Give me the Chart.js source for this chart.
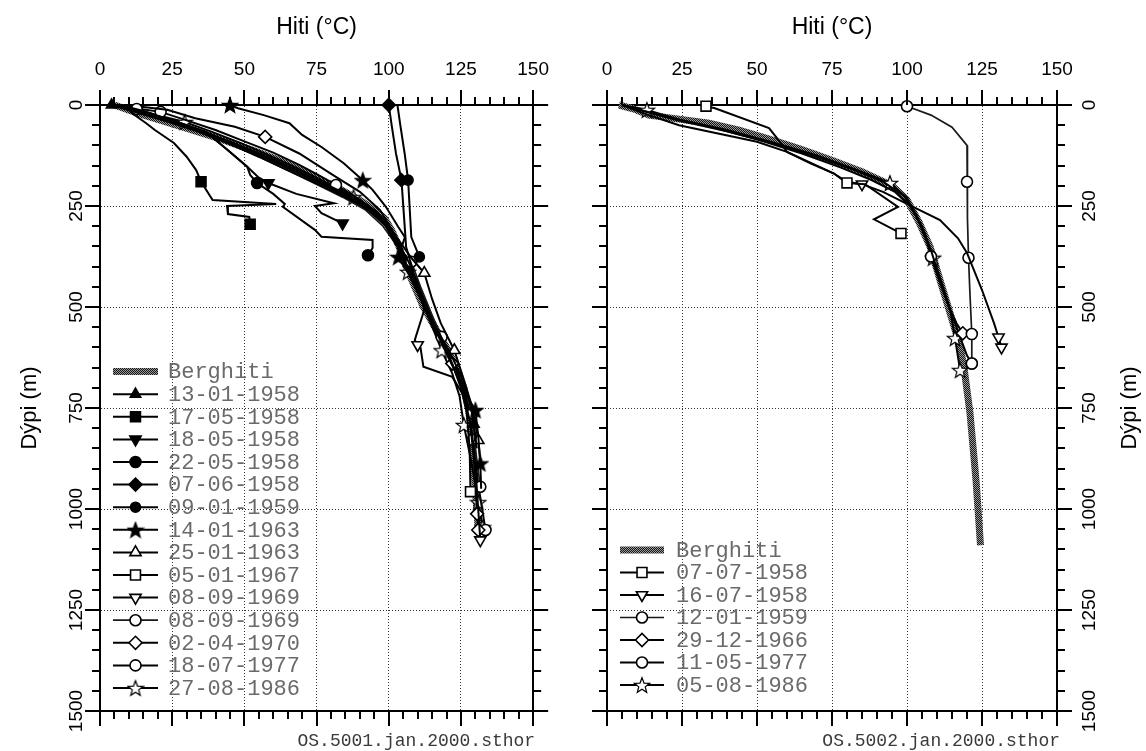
<!DOCTYPE html>
<html>
<head>
<meta charset="utf-8">
<script src="https://cdn.jsdelivr.net/npm/chart.js@4/dist/chart.umd.min.js"></script>
<style>
  html, body { margin: 0; padding: 0; background: #fff; }
  #wrap { position: relative; width: 1146px; height: 751px; overflow: hidden; }
  .pane { position: absolute; top: 0; width: 573px; height: 751px; }
</style>
</head>
<body>
<div id="wrap">
  <div class="pane" style="left:0"><canvas id="well5001" width="573" height="751"></canvas></div>
  <div class="pane" style="left:573px"><canvas id="well5002" width="573" height="751"></canvas></div>
</div>
<script>
// Temperature (°C) vs depth (m) pairs: [hiti, dýpi]

// ---- OS-5001 ----
const berghitiL = [[5,0],[13,20],[22,40],[31,60],[40,80],[48,100],[56,120],[63,140],[69,160],[75,180],[81,200],[86,220],[91,240],[95,260],[98.5,280],[101,310],[103.5,350],[106,400],[109,450],[112,500],[116,550],[120,600],[123.5,650],[126,700],[127.5,750],[128.5,800],[129.5,900],[130.5,1000],[131,1050]];
const s130158 = [[4,0],[11,15],[22,38],[33,62],[45,90],[57,125],[68,160],[78,195],[88,230],[96,265],[101,310],[104,360],[107,410],[110,460],[113,510],[117,560],[121,610],[125,670],[128,730],[129.5,790],[130.5,850]];
const s170558 = [[8,0],[11,20],[16,45],[19,62],[25.6,94],[30,128],[33.3,161],[35,190],[39,235],[61,245],[44,250],[44.3,270],[51.7,277],[52,295]];
const s180558 = [[6,0],[12,12],[24,35],[36.7,67],[44,110],[51,153],[55,180],[58.3,193],[68,220],[81,243],[74.4,250],[76.7,268],[84,293]];
const s220558 = [[6,0],[12,12],[24,35],[36.7,67],[44,110],[51,153],[52,173],[54.4,193],[60,220],[64,245],[63.3,252],[74.4,309],[76.7,326],[94.4,334],[94.4,354],[92.8,372]];
const s070658 = [[100,0],[101,50],[102.5,120],[104.4,186],[105.6,309],[106,351],[107.3,383],[108.5,410]];
const s090159 = [[103,0],[104,50],[105.5,120],[106.7,186],[107.8,327],[110.6,376]];
const s140163 = [[45,0],[47.8,8],[56.7,25],[65.6,45],[70,74],[76.7,104],[84.4,144],[91,186],[94.4,210],[99,252],[103.3,302],[105.6,327],[103.3,376],[107,420],[111,480],[115,540],[119,600],[123,660],[127,720],[130,755],[131,820],[131.7,887],[132,950]];
const s250163 = [[6,0],[14,18],[24,40],[35,65],[46,95],[56,125],[65,155],[74,185],[83,215],[92,250],[99,290],[104,340],[108,380],[112.3,416],[115,480],[118,540],[122.7,607],[126,680],[129,750],[131,830],[132,900]];
const s050167 = [[7,0],[15,15],[25,38],[36,65],[47,98],[57,130],[66,160],[75,190],[85,225],[93,260],[99,300],[103,350],[106,400],[110,460],[114,520],[118,580],[122,640],[125,700],[127,760],[128,850],[128.3,957]];
const s080969a = [[6,0],[13,18],[23,40],[34,66],[45,97],[55,128],[64,158],[73,188],[82,218],[91,250],[98,290],[103,340],[107,390],[110,440],[112.3,507],[109,582],[110,594],[111,601],[112,648],[122,673],[126,720],[128,780],[129.5,850],[130.5,950],[131.7,1077]];
const s080969b = [[5,0],[12.7,10],[20,30],[30,55],[41,85],[51,115],[60,145],[68,172],[76,200],[84,228],[92,260],[98,300],[103,350],[107.8,388],[111,450],[115,520],[119,590],[123,660],[126.5,710],[129,763],[130,850],[131.7,945]];
const s020470 = [[6,0],[15,5],[23.3,12],[33,33],[46.7,54],[57.2,79],[69,120],[81,175],[90,215],[97,260],[102,320],[105,370],[108,420],[112,480],[116,540],[119.5,600],[122,640],[125.5,700],[128,770],[129.5,880],[130.6,1012],[131,1052]];
const s180777 = [[5,0],[12,8],[21,17],[30,38],[40,62],[50,90],[60,118],[69,148],[76,175],[81.7,198],[88,225],[94,255],[99,290],[103,335],[106,380],[110,440],[114,510],[118.3,574],[122,630],[126,700],[128,760],[129,829],[131,940],[133.5,1052]];
const s270886 = [[5,0],[12,10],[20,25],[29.3,42],[39,67],[49,95],[58,123],[67,152],[75,180],[82,205],[87.8,228],[94,260],[99,300],[103,350],[106.7,413],[110,460],[114,530],[118.3,607],[122,665],[124.5,720],[126,792],[128.5,880],[131,983],[132.5,1045]];

// ---- OS-5002 ----
const berghitiR = [[4,0],[9,10],[14,25],[24,35],[34,45],[44,62],[53,82],[64,108],[75,137],[85,165],[95,200],[100,235],[104,290],[107.7,351],[111,433],[114.4,516],[117.7,598],[119,650],[121,763],[123,928],[124.5,1090]];
const r070758 = [[33,3],[36,8],[54,57],[57,85],[60,116],[68,145],[75.5,169],[80,193],[86,196],[97,252],[89,283],[98,318]];
const r160758 = [[5,0],[12,20],[24,50],[50,91],[60,116],[75.5,169],[80,190],[85,196],[92,215],[100,245],[111,285],[117,330],[120,366],[125,458],[129,540],[130.5,575],[131.5,600]];
const r120159 = [[100,3],[108,25],[115,55],[120,100],[120,190],[120.3,280],[120.5,378],[121,470],[121.6,567],[121.6,640]];
const r291266 = [[5,0],[10,10],[20,30],[35,55],[50,85],[65,120],[78,155],[88,185],[96,215],[101,250],[105,300],[108,360],[111,430],[114,500],[116.5,540],[118.6,565]];
const r110577 = [[5,0],[12,15],[25,40],[40,65],[55,95],[70,128],[82,160],[92,190],[99,225],[103,270],[106,320],[108,375],[111,440],[114,500],[117,560],[120,620],[121.6,640]];
const r050886 = [[5,0],[13.3,12],[25,38],[40,62],[55,92],[70,125],[83,160],[94.3,193],[100,230],[104,290],[108.7,378],[112,450],[114.5,510],[116,577],[117.7,656]];

// ---- axes ----
const tempRange = [0, 150];
const depthRange = [0, 1500];
const tempStep = 25, tempMinor = 5;
const depthStep = 250, depthMinor = 50;

// ---- drawing helpers ----
function hatchPattern() {
  const c = document.createElement('canvas');
  c.width = 2; c.height = 2;
  const g = c.getContext('2d');
  g.fillStyle = '#9a9a9a'; g.fillRect(0, 0, 2, 2);
  g.fillStyle = '#161616'; g.fillRect(0, 0, 1, 1); g.fillRect(1, 1, 1, 1);
  return document.createElement('canvas').getContext('2d').createPattern(c, 'repeat');
}
function starMark(filled) {
  const c = document.createElement('canvas');
  c.width = 18; c.height = 18;
  const g = c.getContext('2d');
  g.beginPath();
  for (let i = 0; i < 10; i++) {
    const r = i % 2 ? 3.4 : 8;
    const a = -Math.PI / 2 + i * Math.PI / 5;
    g.lineTo(9 + r * Math.cos(a), 9.8 + r * Math.sin(a));
  }
  g.closePath();
  g.fillStyle = filled ? '#000' : '#fff';
  g.fill();
  g.lineWidth = 1.2; g.strokeStyle = '#000'; g.stroke();
  return c;
}
const HATCH = hatchPattern();
const STAR_FILLED = starMark(true);
const STAR_OPEN = starMark(false);

const seriesL = [
  { label: 'Berghiti',   pts: berghitiL, rock: true },
  { label: '13-01-1958', pts: s130158, shape: 'triangle', filled: true,  r: 6,   marks: [0, 19] },
  { label: '17-05-1958', pts: s170558, shape: 'rect',     filled: true,  r: 7,   marks: [7, 13] },
  { label: '18-05-1958', pts: s180558, shape: 'triangle', filled: true,  r: 6.5, rot: 180, marks: [7, 12] },
  { label: '22-05-1958', pts: s220558, shape: 'circle',   filled: true,  r: 5.5, marks: [7, 15] },
  { label: '07-06-1958', pts: s070658, shape: 'rectRot',  filled: true,  r: 6.5, marks: [0, 3] },
  { label: '09-01-1959', pts: s090159, shape: 'circle',   filled: true,  r: 5,   marks: [3, 5] },
  { label: '14-01-1963', pts: s140163, shape: STAR_FILLED, marks: [0, 7, 12, 19, 21] },
  { label: '25-01-1963', pts: s250163, shape: 'triangle', filled: false, r: 6.5, marks: [13, 16, 19] },
  { label: '05-01-1967', pts: s050167, shape: 'rect',     filled: false, r: 7,   marks: [20] },
  { label: '08-09-1969', pts: s080969a, shape: 'triangle', filled: false, r: 6.5, rot: 180, marks: [16, 24] },
  { label: '08-09-1969', pts: s080969b, shape: 'circle',  filled: false, r: 5.5, light: true, marks: [1, 13, 19, 21] },
  { label: '02-04-1970', pts: s020470, shape: 'rectRot',  filled: false, r: 6.5, marks: [5, 16, 20, 21] },
  { label: '18-07-1977', pts: s180777, shape: 'circle',   filled: false, r: 5.5, marks: [2, 9, 17, 21, 23] },
  { label: '27-08-1986', pts: s270886, shape: STAR_OPEN,  marks: [3, 10, 14, 17, 20, 22, 23] }
];
const seriesR = [
  { label: 'Berghiti',   pts: berghitiR, rock: true },
  { label: '07-07-1958', pts: r070758, shape: 'rect',     filled: false, r: 7,   marks: [0, 7, 11] },
  { label: '16-07-1958', pts: r160758, shape: 'triangle', filled: false, r: 6.5, rot: 180, marks: [7, 15, 16] },
  { label: '12-01-1959', pts: r120159, shape: 'circle',   filled: false, r: 5.5, light: true, marks: [0, 4, 6, 8, 9] },
  { label: '29-12-1966', pts: r291266, shape: 'rectRot',  filled: false, r: 6.5, marks: [15] },
  { label: '11-05-1977', pts: r110577, shape: 'circle',   filled: false, r: 5.5, marks: [11, 16] },
  { label: '05-08-1986', pts: r050886, shape: STAR_OPEN,  marks: [1, 7, 10, 13, 14] }
];

function toDataset(s) {
  const data = s.pts.map(([t, d]) => ({ x: t, y: d }));
  if (s.rock) {
    return {
      label: s.label, data, showLine: true, order: 5,
      borderColor: HATCH, borderWidth: 7, pointRadius: 0, clip: false,
      rockLine: true
    };
  }
  const marks = s.marks || [];
  return {
    label: s.label, data, showLine: true, order: 0, clip: false,
    borderColor: s.light ? '#1a1a1a' : '#000',
    borderWidth: s.light ? 1.7 : 2,
    pointStyle: s.shape,
    pointRotation: s.rot || 0,
    pointBackgroundColor: s.filled ? '#000' : '#fff',
    pointBorderColor: '#000',
    pointBorderWidth: 1.6,
    markRadius: s.r || 6,
    pointRadius: (ctx) => marks.includes(ctx.dataIndex) ? (s.r || 6) : 0,
    pointHoverRadius: 0
  };
}

// ---- plugins ----
const frameTicks = {
  id: 'frameTicks',
  afterDraw(chart) {
    const { ctx, chartArea: a } = chart;
    const xs = chart.scales.x, ys = chart.scales.y;
    ctx.save();
    ctx.strokeStyle = '#000';
    ctx.lineWidth = 2;
    ctx.beginPath();
    for (let t = tempRange[0]; t <= tempRange[1]; t += tempMinor) {
      const px = Math.round(xs.getPixelForValue(t));
      const len = t % tempStep === 0 ? 15 : 8;
      ctx.moveTo(px, a.top); ctx.lineTo(px, a.top - len);
      ctx.moveTo(px, a.bottom); ctx.lineTo(px, a.bottom + len);
    }
    for (let d = depthRange[0]; d <= depthRange[1]; d += depthMinor) {
      const py = Math.round(ys.getPixelForValue(d));
      const len = d % depthStep === 0 ? 15 : 8;
      ctx.moveTo(a.left, py); ctx.lineTo(a.left - len, py);
      ctx.moveTo(a.right, py); ctx.lineTo(a.right + len, py);
    }
    ctx.stroke();
    ctx.restore();
  }
};

const insideLegend = {
  id: 'insideLegend',
  afterDatasetsDraw(chart, args, o) {
    const { ctx, chartArea: a } = chart;
    const sets = chart.data.datasets;
    const rowH = o.rowHeight;
    const x0 = a.left + o.inset;
    const yLast = a.bottom - o.bottomGap;
    ctx.save();
    sets.forEach((ds, i) => {
      const cy = yLast - (sets.length - 1 - i) * rowH;
      ctx.beginPath();
      ctx.lineWidth = ds.borderWidth;
      ctx.strokeStyle = ds.borderColor;
      ctx.moveTo(x0, cy); ctx.lineTo(x0 + o.sample, cy);
      ctx.stroke();
      if (!ds.rockLine && Chart.helpers && Chart.helpers.drawPoint) {
        ctx.fillStyle = ds.pointBackgroundColor;
        ctx.strokeStyle = ds.pointBorderColor;
        ctx.lineWidth = ds.pointBorderWidth;
        Chart.helpers.drawPoint(ctx, {
          pointStyle: ds.pointStyle, rotation: ds.pointRotation,
          radius: ds.markRadius, borderWidth: ds.pointBorderWidth
        }, x0 + o.sample / 2, cy);
      }
      ctx.fillStyle = '#6a6a6a';
      ctx.font = o.font;
      ctx.textAlign = 'left';
      ctx.textBaseline = 'middle';
      ctx.fillText(ds.label, x0 + o.sample + o.gap, cy + 1);
    });
    ctx.restore();
  }
};

const extraText = {
  id: 'extraText',
  afterDraw(chart, args, o) {
    const { ctx, chartArea: a } = chart;
    ctx.save();
    if (o.footer) {
      ctx.font = '18px "Liberation Mono", "DejaVu Sans Mono", monospace';
      ctx.fillStyle = '#3a3a3a';
      ctx.textAlign = 'right';
      ctx.textBaseline = 'middle';
      ctx.fillText(o.footer, a.right + o.footerDx, a.bottom + 30);
    }
    if (o.sideTitle) {
      ctx.translate(a.right + o.sideDx, (a.top + a.bottom) / 2);
      ctx.rotate(-Math.PI / 2);
      ctx.font = '22px "Liberation Sans", Arial, sans-serif';
      ctx.fillStyle = '#000';
      ctx.textAlign = 'center';
      ctx.textBaseline = 'middle';
      ctx.fillText(o.sideTitle, 0, 0);
    }
    ctx.restore();
  }
};

const SANS = '"Liberation Sans", Arial, sans-serif';
const tickFont = { family: SANS, size: 19 };
const titleFont = { family: SANS, size: 22 };
const topTitleFont = { family: SANS, size: 23 };
const gridLine = { color: '#333', lineWidth: 1, drawTicks: false };
const frameBorder = { display: true, color: '#000', width: 2, dash: [1, 2] };
const plainNumber = (v) => String(v);

function buildScales(side, sizes) {
  const labelled = side === 'left' ? 'left' : 'right';
  const bare = side === 'left' ? 'right' : 'left';
  return {
    x: {
      type: 'linear', position: 'top', min: tempRange[0], max: tempRange[1],
      ticks: { stepSize: tempStep, font: tickFont, color: '#000', padding: 24, maxRotation: 0, autoSkip: false, callback: plainNumber },
      grid: gridLine, border: frameBorder,
      title: { display: true, text: 'Hiti (°C)', font: topTitleFont, color: '#000', padding: { top: 14, bottom: 0 } },
      afterFit(s) { s.height = sizes.top; }
    },
    xb: {
      type: 'linear', position: 'bottom', min: tempRange[0], max: tempRange[1],
      ticks: { display: false }, grid: { display: false, drawTicks: false },
      border: { display: true, color: '#000', width: 2 },
      afterFit(s) { s.height = sizes.bottom; }
    },
    y: {
      type: 'linear', position: labelled, reverse: true, min: depthRange[0], max: depthRange[1],
      ticks: { stepSize: depthStep, font: tickFont, color: '#000', minRotation: 90, maxRotation: 90,
               crossAlign: 'center', padding: sizes.labelPad, autoSkip: false, callback: plainNumber },
      grid: gridLine, border: frameBorder,
      title: { display: side === 'left', text: 'Dýpi (m)', font: titleFont, color: '#000', padding: { top: 17, bottom: 0 } },
      afterFit(s) { s.width = sizes.labelled; }
    },
    yb: {
      type: 'linear', position: bare, reverse: true, min: depthRange[0], max: depthRange[1],
      ticks: { display: false }, grid: { display: false, drawTicks: false },
      border: { display: true, color: '#000', width: 2 },
      afterFit(s) { s.width = sizes.bare; }
    }
  };
}

function makeChart(id, series, side, sizes, extras) {
  const datasets = series.map(toDataset).map(d => Object.assign(d, { xAxisID: 'x', yAxisID: 'y' }));
  return new Chart(document.getElementById(id), {
    type: 'scatter',
    data: { datasets },
    options: {
      responsive: false, animation: false, devicePixelRatio: 1, events: [],
      layout: { padding: 0 },
      elements: { line: { tension: 0 } },
      scales: buildScales(side, sizes),
      plugins: {
        legend: { display: false },
        tooltip: { enabled: false },
        insideLegend: extras.legend,
        extraText: extras.text
      }
    },
    plugins: [frameTicks, insideLegend, extraText]
  });
}

const legendFont = '22px "Liberation Mono", "DejaVu Sans Mono", monospace';

makeChart('well5001', seriesL, 'left',
  { top: 105, bottom: 40, labelled: 100, bare: 23, labelPad: 2 },
  { legend: { rowHeight: 22.6, inset: 13, bottomGap: 23, sample: 45, gap: 10, font: legendFont },
    text: { footer: 'OS.5001.jan.2000.sthor', footerDx: 2 } });

makeChart('well5002', seriesR, 'right',
  { top: 105, bottom: 40, labelled: 89, bare: 34, labelPad: 12 },
  { legend: { rowHeight: 22.5, inset: 13, bottomGap: 26, sample: 44, gap: 12, font: legendFont },
    text: { footer: 'OS.5002.jan.2000.sthor', footerDx: 3, sideTitle: 'Dýpi (m)', sideDx: 73 } });
</script>
</body>
</html>
